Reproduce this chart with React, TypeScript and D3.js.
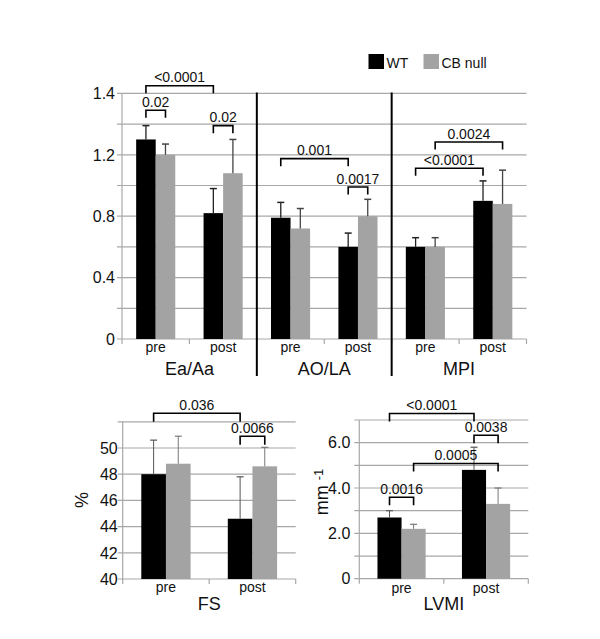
import React, { useEffect, useRef } from "react";
import * as d3 from "d3";

const series = ["WT", "CB null"];
const seriesColors = ["#000000", "#a3a3a3"];
const phases = ["pre", "post"];

// upper panel: three measures, each pre / post
const topGroups = ["Ea/Aa", "AO/LA", "MPI"];
const topWT = [1.3, 0.82, 0.79, 0.6, 0.6, 0.9];
const topWTErr = [0.09, 0.16, 0.1, 0.09, 0.06, 0.13];
const topCB = [1.2, 1.08, 0.72, 0.8, 0.6, 0.88];
const topCBErr = [0.07, 0.22, 0.13, 0.11, 0.06, 0.22];
const topTicks = [0, 0.4, 0.8, 1.2, 1.6];
const topTickLabels = ["0", "0.4", "0.8", "1.2", "1.4"];
// [cat, series] -> [cat, series], bracket level in data units
const topBrackets = [
  { a: [0, 0], b: [1, 0], level: 1.65, label: "<0.0001" },
  { a: [0, 0], b: [0, 1], level: 1.49, label: "0.02" },
  { a: [1, 0], b: [1, 1], level: 1.39, label: "0.02" },
  { a: [2, 0], b: [3, 0], level: 1.175, label: "0.001" },
  { a: [3, 0], b: [3, 1], level: 0.99, label: "0.0017" },
  { a: [4, 1], b: [5, 1], level: 1.283, label: "0.0024" },
  { a: [4, 0], b: [5, 0], level: 1.112, label: "<0.0001" },
];

// FS
const fsWT = [48.0, 44.6];
const fsWTErr = [2.6, 3.2];
const fsCB = [48.8, 48.6];
const fsCBErr = [2.1, 1.45];
const fsTicks = [40, 42, 44, 46, 48, 50];
const fsTickLabels = ["40", "42", "44", "46", "48", "50"];
const fsBrackets = [
  { a: [0, 0], b: [1, 0], level: 52.65, label: "0.036" },
  { a: [1, 0], b: [1, 1], level: 50.9, label: "0.0066" },
];

// LVMI
const lvWT = [2.7, 4.8];
const lvWTErr = [0.3, 1.0];
const lvCB = [2.2, 3.3];
const lvCBErr = [0.2, 0.7];
const lvTicks = [0, 2, 4, 6];
const lvTickLabels = ["0", "2.0", "4.0", "6.0"];
const lvBrackets = [
  { a: [0, 0], b: [1, 0], level: 7.29, label: "<0.0001" },
  { a: [1, 0], b: [1, 1], level: 6.33, label: "0.0038" },
  { a: [0, 1], b: [1, 1], level: 5.08, label: "0.0005" },
  { a: [0, 0], b: [0, 1], level: 3.59, label: "0.0016" },
];

const FONT = "Arial, 'Liberation Sans', Helvetica, sans-serif";
const GRID = "#a8a8a8";

function drawPanel(svg, cfg) {
  const g = svg.append("g");
  const n = cfg.wt.length;
  const y = d3.scaleLinear().domain(cfg.domain).range([cfg.bottom, cfg.top]);
  const x = d3
    .scaleBand()
    .domain(d3.range(n))
    .range([cfg.left, cfg.right])
    .paddingInner(cfg.pad)
    .paddingOuter(cfg.pad / 2);
  const xs = d3.scaleBand().domain([0, 1]).range([0, x.bandwidth()]);
  const step = x.step();
  const center = (c, s) => x(c) + xs(s) + xs.bandwidth() / 2;

  // gridlines + y ticks
  const grid = d3.range(cfg.domain[0], cfg.domain[1] + cfg.gridStep / 2, cfg.gridStep);
  g.selectAll(".grid")
    .data(grid)
    .enter()
    .append("line")
    .attr("x1", cfg.left - 5)
    .attr("x2", cfg.right)
    .attr("y1", (d) => y(d))
    .attr("y2", (d) => y(d))
    .style("stroke", GRID)
    .style("stroke-width", 1.2);

  g.append("line")
    .attr("x1", cfg.left)
    .attr("x2", cfg.left)
    .attr("y1", y(cfg.domain[1]))
    .attr("y2", y(cfg.domain[0]))
    .style("stroke", GRID)
    .style("stroke-width", 1.2);

  g.selectAll(".ytick")
    .data(cfg.ticks)
    .enter()
    .append("text")
    .text((d, i) => cfg.tickLabels[i])
    .attr("x", cfg.left - cfg.labelGap)
    .attr("y", (d) => y(d))
    .attr("dy", "0.36em")
    .attr("text-anchor", "end")
    .style("font-family", FONT)
    .style("font-size", cfg.tickSize + "px")
    .style("fill", "#111");

  // x ticks at category boundaries
  g.selectAll(".xtick")
    .data(d3.range(n + 1))
    .enter()
    .append("line")
    .attr("x1", (i) => cfg.left + i * step)
    .attr("x2", (i) => cfg.left + i * step)
    .attr("y1", cfg.bottom)
    .attr("y2", cfg.bottom + 5)
    .style("stroke", GRID)
    .style("stroke-width", 1.2);

  // bars
  const vals = [cfg.wt, cfg.cb];
  const errs = [cfg.wtErr, cfg.cbErr];
  [0, 1].forEach((s) => {
    g.selectAll(".bar" + s)
      .data(vals[s])
      .enter()
      .append("rect")
      .attr("x", (d, i) => x(i) + xs(s))
      .attr("width", xs.bandwidth())
      .attr("y", (d) => y(d))
      .attr("height", (d) => y(cfg.domain[0]) - y(d))
      .style("fill", seriesColors[s]);
  });

  // error bars (upper only)
  [0, 1].forEach((s) => {
    vals[s].forEach((v, i) => {
      const cx = center(i, s);
      const color = cfg.errColor[s];
      g.append("line")
        .attr("x1", cx)
        .attr("x2", cx)
        .attr("y1", y(v))
        .attr("y2", y(v + errs[s][i]))
        .style("stroke", color)
        .style("stroke-width", cfg.errWidth);
      g.append("line")
        .attr("x1", cx - 3.5)
        .attr("x2", cx + 3.5)
        .attr("y1", y(v + errs[s][i]))
        .attr("y2", y(v + errs[s][i]))
        .style("stroke", color)
        .style("stroke-width", cfg.errWidth + 0.2);
    });
  });

  // category labels
  g.selectAll(".xlab")
    .data(d3.range(n))
    .enter()
    .append("text")
    .text((i) => phases[i % 2])
    .attr("x", (i) => x(i) + x.bandwidth() / 2)
    .attr("y", cfg.catLabelY)
    .attr("text-anchor", "middle")
    .style("font-family", FONT)
    .style("font-size", "14px")
    .style("fill", "#111");

  // group labels
  cfg.groups.forEach((name, k) => {
    g.append("text")
      .text(name)
      .attr("x", cfg.left + (2 * k + 1) * step)
      .attr("y", cfg.groupLabelY)
      .attr("text-anchor", "middle")
      .style("font-family", FONT)
      .style("font-size", "18px")
      .style("fill", "#111");
  });

  // separators between groups
  d3.range(1, cfg.groups.length).forEach((k) => {
    g.append("line")
      .attr("x1", cfg.left + 2 * k * step)
      .attr("x2", cfg.left + 2 * k * step)
      .attr("y1", y(cfg.domain[1]) - 1)
      .attr("y2", cfg.groupLabelY + 1)
      .style("stroke", "#000")
      .style("stroke-width", 2);
  });

  // significance brackets
  cfg.brackets.forEach((b) => {
    const xa = center(b.a[0], b.a[1]);
    const xb = center(b.b[0], b.b[1]);
    const yl = y(b.level);
    g.append("path")
      .attr("d", `M${xa},${yl + cfg.leg}V${yl}H${xb}V${yl + cfg.leg}`)
      .style("fill", "none")
      .style("stroke", "#000")
      .style("stroke-width", 1.6);
    g.append("text")
      .text(b.label)
      .attr("x", (xa + xb) / 2)
      .attr("y", yl - 3.5)
      .attr("text-anchor", "middle")
      .style("font-family", FONT)
      .style("font-size", "14px")
      .style("fill", "#111");
  });

  return g;
}

function Chart() {
  const ref = useRef(null);

  useEffect(() => {
    const svg = d3.select(ref.current);
    svg.selectAll("*").remove();

    drawPanel(svg, {
      wt: topWT,
      wtErr: topWTErr,
      cb: topCB,
      cbErr: topCBErr,
      domain: [0, 1.6],
      gridStep: 0.2,
      ticks: topTicks,
      tickLabels: topTickLabels,
      tickSize: 16,
      labelGap: 7,
      left: 122,
      right: 526.5,
      top: 93.4,
      bottom: 339,
      pad: 0.42,
      groups: topGroups,
      catLabelY: 352,
      groupLabelY: 375,
      brackets: topBrackets,
      leg: 7.5,
      errColor: ["#222", "#444"],
      errWidth: 1.3,
    });

    drawPanel(svg, {
      wt: fsWT,
      wtErr: fsWTErr,
      cb: fsCB,
      cbErr: fsCBErr,
      domain: [40, 52],
      gridStep: 2,
      ticks: fsTicks,
      tickLabels: fsTickLabels,
      tickSize: 16,
      labelGap: 5,
      left: 122.7,
      right: 295.7,
      top: 421.8,
      bottom: 579,
      pad: 0.43,
      groups: ["FS"],
      catLabelY: 592,
      groupLabelY: 610,
      brackets: fsBrackets,
      leg: 8.5,
      errColor: ["#555", "#777"],
      errWidth: 1,
    });

    drawPanel(svg, {
      wt: lvWT,
      wtErr: lvWTErr,
      cb: lvCB,
      cbErr: lvCBErr,
      domain: [0, 7],
      gridStep: 1,
      ticks: lvTicks,
      tickLabels: lvTickLabels,
      tickSize: 16,
      labelGap: 9,
      left: 359.3,
      right: 528.3,
      top: 420,
      bottom: 578.7,
      pad: 0.43,
      groups: ["LVMI"],
      catLabelY: 593,
      groupLabelY: 610,
      brackets: lvBrackets,
      leg: 8,
      errColor: ["#555", "#777"],
      errWidth: 1,
    });

    // y titles of the lower panels
    svg
      .append("text")
      .text("%")
      .attr("transform", "translate(88,500) rotate(-90)")
      .attr("text-anchor", "middle")
      .style("font-family", FONT)
      .style("font-size", "18px")
      .style("fill", "#111");

    const mm = svg
      .append("text")
      .attr("transform", "translate(328,492) rotate(-90)")
      .attr("text-anchor", "middle")
      .style("font-family", FONT)
      .style("font-size", "18px")
      .style("fill", "#111");
    mm.append("tspan").text("mm ");
    mm.append("tspan").text("-1").attr("dy", -5).style("font-size", "13px");

    // legend
    const legend = svg.append("g");
    const legendX = [368.5, 423.5];
    series.forEach((name, i) => {
      legend
        .append("rect")
        .attr("x", legendX[i])
        .attr("y", 54)
        .attr("width", 15.5)
        .attr("height", 15)
        .style("fill", seriesColors[i]);
      legend
        .append("text")
        .text(name)
        .attr("x", legendX[i] + 18)
        .attr("y", 67.5)
        .style("font-family", FONT)
        .style("font-size", "14px")
        .style("fill", "#111");
    });
  }, []);

  return <svg ref={ref} width={600} height={639} style={{ display: "block", background: "#fff" }} />;
}

export default function App() {
  return (
    <div style={{ position: "absolute", left: 0, top: 0 }}>
      <Chart />
    </div>
  );
}
